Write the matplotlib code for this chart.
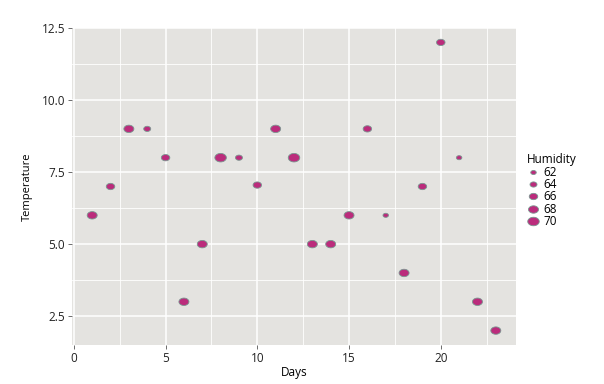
import numpy as np
import matplotlib
matplotlib.use("Agg")
import matplotlib.pyplot as plt
from matplotlib.path import Path
from matplotlib.markers import MarkerStyle
from matplotlib.lines import Line2D

# data
days = [1, 2, 3, 4, 5, 6, 7, 8, 9, 10, 11, 12, 13, 14, 15, 16, 17, 18, 19, 20, 21, 22, 23]
temperature = [6, 7, 9, 9, 8, 3, 5, 8, 8, 7.05, 9, 8, 5, 5, 6, 9, 6, 4, 7, 12, 8, 3, 2]
humidity = [68, 66, 68, 64, 66, 68, 68, 70, 64, 66, 68, 70, 68, 68, 68, 66, 62, 68, 66, 66, 62, 68, 68]
legend_levels = [62, 64, 66, 68, 70]

plt.rcParams['font.family'] = ['Open Sans', 'DejaVu Sans']

fill = '#bb2c7c'
edge = '#7a9690'
panel_bg = '#e4e3e0'

# points in the reference are slightly wider than tall
t = np.linspace(0, 2 * np.pi, 60)
ellipse = Path(np.column_stack([np.cos(t), 0.74 * np.sin(t)]), closed=True)
marker = MarkerStyle(ellipse)


def size_pts(h):
    # width in px -> points (100 dpi)
    w = 5.5 + (np.asarray(h) - 62) * 0.75
    return w * 0.72


fig = plt.figure(figsize=(6.04, 3.84), dpi=100)
ax = fig.add_axes([72 / 604, 1 - 345 / 384, (516 - 72) / 604, (345 - 28) / 384])
ax.set_facecolor(panel_bg)

ax.scatter(days, temperature, s=size_pts(humidity) ** 2, marker=marker,
           c=fill, edgecolors=edge, linewidths=0.6, zorder=3)

ax.set_xlim(-0.1, 24.1)
ax.set_ylim(1.5, 12.5)
ax.set_xticks([0, 5, 10, 15, 20])
ax.set_yticks([2.5, 5.0, 7.5, 10.0, 12.5])
ax.set_yticklabels(['2.5', '5.0', '7.5', '10.0', '12.5'])
ax.set_xticks([2.5, 7.5, 12.5, 17.5, 22.5], minor=True)
ax.set_yticks([3.75, 6.25, 8.75, 11.25], minor=True)
ax.grid(which='major', color='white', linewidth=1.1, zorder=0)
ax.grid(which='minor', color='white', linewidth=0.6, zorder=0)
ax.set_axisbelow(True)
ax.tick_params(which='major', length=3, width=0.6, color='#555555',
               labelsize=8.5, labelcolor='#222222', pad=2)
ax.tick_params(which='minor', length=0)
for s in ax.spines.values():
    s.set_visible(False)

ax.set_xlabel('Days', fontsize=8.5, labelpad=1)
ax.set_ylabel('Temperature', fontsize=8, labelpad=6)

handles = [Line2D([], [], linestyle='none', marker=marker, markersize=size_pts(h),
                  markerfacecolor=fill, markeredgecolor=edge, markeredgewidth=0.6)
           for h in legend_levels]
leg = fig.legend(handles, [str(h) for h in legend_levels], title='Humidity',
                 loc='upper left', bbox_to_anchor=(519 / 604, 1 - 145 / 384),
                 frameon=False, fontsize=8.5, title_fontsize=8.5,
                 handlelength=1.0, handletextpad=0.4, labelspacing=-0.05,
                 borderpad=0.2)
leg._legend_box.align = 'left'

fig.savefig('out.png', dpi=100)
